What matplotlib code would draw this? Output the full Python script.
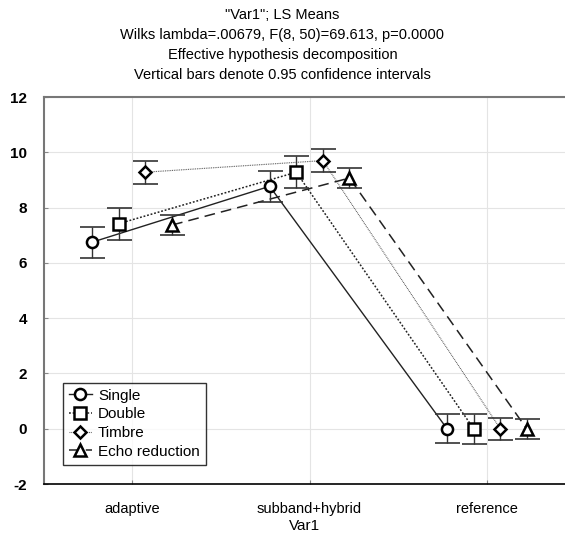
import numpy as np
import matplotlib.pyplot as plt

plt.rcParams['font.family'] = ['Liberation Sans', 'DejaVu Sans']
plt.rcParams['axes.unicode_minus'] = False

# Data
categories = ["adaptive", "subband+hybrid", "reference"]
series = ["Single", "Double", "Timbre", "Echo reduction"]
means = {
    "Single": [6.75, 8.77, 0.0],
    "Double": [7.42, 9.28, 0.0],
    "Timbre": [9.28, 9.70, 0.0],
    "Echo reduction": [7.37, 9.07, -0.01],
}
ci = {
    "Single": [0.56, 0.55, 0.52],
    "Double": [0.58, 0.58, 0.55],
    "Timbre": [0.41, 0.41, 0.40],
    "Echo reduction": [0.37, 0.37, 0.35],
}

offsets = [-0.225, -0.075, 0.075, 0.225]
markers = ["o", "s", "D", "^"]
msizes = [8, 8, 6, 8]
linestyles = ["-", (0, (1.2, 1.2)), (0, (0.8, 0.8)), (0, (7, 4))]
lcolors = ["#222222", "#222222", "#555555", "#222222"]
lwidths = [1.0, 1.1, 0.8, 1.1]

fig = plt.figure(figsize=(5.65, 5.36), dpi=100)
ax = fig.add_axes([0.077, 0.097, 0.923, 0.722])

x = np.arange(len(categories))
for i, name in enumerate(series):
    xs = x + offsets[i]
    ax.plot(xs, means[name], linestyle=linestyles[i], color=lcolors[i],
            lw=lwidths[i], zorder=2)
    ax.errorbar(xs, means[name], yerr=ci[name], fmt="none", ecolor="#333333",
                elinewidth=1.0, capsize=9, capthick=1.2, zorder=3)
    ax.plot(xs, means[name], linestyle="none", marker=markers[i],
            markersize=msizes[i], markerfacecolor="white",
            markeredgecolor="black", markeredgewidth=1.8, zorder=4)

# legend handles
handles = []
for i, name in enumerate(series):
    h, = ax.plot([], [], linestyle=linestyles[i], color=lcolors[i],
                 lw=lwidths[i], marker=markers[i], markersize=msizes[i],
                 markerfacecolor="white", markeredgecolor="black",
                 markeredgewidth=1.8)
    handles.append(h)
leg = ax.legend(handles, series, loc="lower left",
                bbox_to_anchor=(0.037, 0.05), fontsize=11,
                frameon=True, fancybox=False, borderpad=0.4,
                handlelength=1.5, handletextpad=0.4, labelspacing=0.3,
                borderaxespad=0)
leg.get_frame().set_edgecolor("black")
leg.get_frame().set_linewidth(1.0)

ax.set_xlim(-0.5, 2.44)
ax.set_ylim(-2, 12)
ax.set_yticks(np.arange(-2, 13, 2))
ax.set_xticks(x)
ax.set_xticklabels(categories, fontsize=10.5)
for t in ax.get_yticklabels():
    t.set_fontweight("bold")
    t.set_fontsize(11)
ax.tick_params(axis="both", direction="in", length=3, color="#888888")
ax.tick_params(axis="x", pad=13)
ax.tick_params(axis="y", pad=12)
ax.grid(True, color="#e4e4e4", lw=0.8)
ax.set_axisbelow(True)
ax.spines["right"].set_visible(False)
ax.spines["left"].set_color("#777777")
ax.spines["left"].set_linewidth(1.5)
ax.spines["top"].set_color("#777777")
ax.spines["top"].set_linewidth(1.5)
ax.spines["bottom"].set_color("black")
ax.spines["bottom"].set_linewidth(1.2)
ax.set_xlabel("Var1", fontsize=11, labelpad=2)

title = ('"Var1"; LS Means\n'
         'Wilks lambda=.00679, F(8, 50)=69.613, p=0.0000\n'
         'Effective hypothesis decomposition\n'
         'Vertical bars denote 0.95 confidence intervals')
fig.text(0.5, 0.986, title, ha="center", va="top", fontsize=10.5,
         linespacing=1.55)

fig.savefig("out.png", dpi=100)
